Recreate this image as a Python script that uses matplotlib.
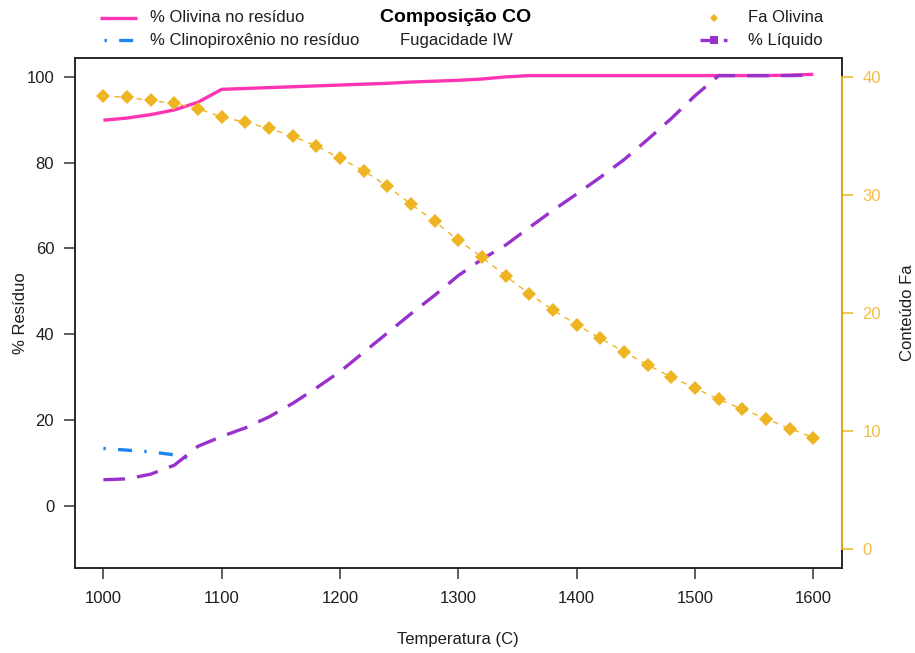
import matplotlib
matplotlib.use("Agg")
import matplotlib.pyplot as plt
from matplotlib.lines import Line2D
from matplotlib.transforms import blended_transform_factory

plt.rcParams['font.family'] = ['Liberation Sans', 'DejaVu Sans']

# ---------------- data ----------------
temps = [1000, 1020, 1040, 1060, 1080, 1100, 1120, 1140, 1160, 1180, 1200,
         1220, 1240, 1260, 1280, 1300, 1320, 1340, 1360, 1380, 1400,
         1420, 1440, 1460, 1480, 1500, 1520, 1540, 1560, 1580, 1600]

olivina = [89.9, 90.4, 91.2, 92.3, 94.1, 97.1, 97.3, 97.5, 97.7, 97.9, 98.1,
           98.3, 98.5, 98.8, 99.0, 99.2, 99.5, 100.0, 100.3, 100.3, 100.3,
           100.3, 100.3, 100.3, 100.3, 100.3, 100.3, 100.3, 100.3, 100.4, 100.6]

cpx_temps = [1000, 1020, 1040, 1060, 1080]
cpx = [13.4, 13.0, 12.6, 11.9, 10.6]

liquido = [6.1, 6.3, 7.4, 9.5, 13.9, 16.2, 18.2, 20.75, 23.9, 27.5, 31.3,
           35.8, 40.3, 44.8, 49.1, 53.7, 57.5, 60.8, 64.9, 68.9, 72.7,
           76.6, 80.7, 85.4, 90.3, 95.6, 100.3, 100.3, 100.3, 100.3, 100.4]

fa_olivina = [38.38, 38.26, 38.0, 37.75, 37.3, 36.6, 36.15, 35.64, 34.96, 34.15, 33.1,
              32.04, 30.74, 29.21, 27.75, 26.15, 24.71, 23.13, 21.6, 20.25, 18.99,
              17.84, 16.7, 15.58, 14.56, 13.61, 12.68, 11.83, 11.04, 10.19, 9.43]

x_ticks = [1000, 1100, 1200, 1300, 1400, 1500, 1600]
left_ticks = [0, 20, 40, 60, 80, 100]
right_ticks = [0, 10, 20, 30, 40]

title = "Composição CO"
subtitle = "Fugacidade IW"
labels = ["% Olivina no resíduo", "% Clinopiroxênio no resíduo", "Fa Olivina", "% Líquido"]

# ---------------- style ----------------
PINK = "#FF34B3"
BLUE = "#1C86EE"
PURPLE = "#9932CC"
GOLD = "#EEB422"
GOLD_TXT = "#F0BE45"
TXT = "#1E1E1E"
FS = 12

W, H = 915, 653
fig = plt.figure(figsize=(W / 100, H / 100), dpi=100)
L, R, B, T = 75, 841.7, 567.7, 58
ax = fig.add_axes([L / W, 1 - B / H, (R - L) / W, (B - T) / H])
ax2 = ax.twinx()

ax.set_xlim(976, 1624)
ax.set_ylim(-14.4, 104.4)
ax2.set_ylim(-1.6, 41.6)

ax.plot(temps, olivina, color=PINK, lw=2.4, solid_capstyle='butt', zorder=3)
ax.plot(cpx_temps, cpx, color=BLUE, lw=2.4, dashes=(0.7, 3.7, 4.2, 3.7),
        dash_capstyle='butt', zorder=3)
ax.plot(temps, liquido, color=PURPLE, lw=2.4, dashes=(6.5, 3.6),
        dash_capstyle='butt', zorder=3)
ax2.plot(temps, fa_olivina, color=GOLD, lw=1.0, dashes=(4, 4), zorder=2)
ax2.plot(temps, fa_olivina, color=GOLD, lw=0, marker='D', markersize=7,
         markeredgewidth=0, zorder=3)

for a in (ax, ax2):
    for s in a.spines.values():
        s.set_color("#222222")
        s.set_linewidth(1.1)

ax.set_xticks(x_ticks)
ax.set_yticks(left_ticks)
ax.tick_params(axis='both', direction='out', length=8, width=1.1, color="#333333",
               labelsize=FS, labelcolor=TXT)
ax.tick_params(axis='x', pad=9)
ax.tick_params(axis='y', pad=7)

ax2.set_yticks(right_ticks)
ax2.tick_params(axis='y', direction='out', length=8, width=1.1, color=GOLD,
                labelsize=FS, labelcolor=GOLD_TXT, pad=7)
# gold axis line on the right from 0 to 40
tr = blended_transform_factory(ax2.transAxes, ax2.transData)
ax2.plot([1, 1], [0, 40], transform=tr, color=GOLD, lw=1.3, clip_on=False, zorder=5)

ax.set_xlabel("Temperatura (C)", fontsize=FS, color=TXT, labelpad=18.5)
ax.set_ylabel("% Resíduo", fontsize=FS, color=TXT, labelpad=-1)
ax2.set_ylabel("Conteúdo Fa", fontsize=FS, color=TXT, labelpad=13.5, rotation=90)

# ---------------- legends / titles (figure pixel coords) ----------------
def fx(px):
    return px / W

def fy(py):
    return 1 - py / H

fig.text(fx(456), fy(18), title, ha='center', va='center', fontsize=14,
         fontweight='bold', color='black')
fig.text(fx(456), fy(41), subtitle, ha='center', va='center', fontsize=FS, color=TXT)

fig.add_artist(Line2D([fx(100), fx(137)], [fy(18), fy(18)], color=PINK, lw=2.4,
                      solid_capstyle='butt'))
fig.add_artist(Line2D([fx(104), fx(137)], [fy(40), fy(40)], color=BLUE, lw=2.4,
                      dashes=(0.7, 3.7, 4.2, 3.7), dash_capstyle='butt'))
fig.text(fx(150), fy(18), labels[0], ha='left', va='center', fontsize=FS, color=TXT)
fig.text(fx(150), fy(40), labels[1], ha='left', va='center', fontsize=FS, color=TXT)

fig.add_artist(Line2D([fx(714)], [fy(18)], color=GOLD, lw=0, marker='D',
                      markersize=4.5, markeredgewidth=0))
fig.add_artist(Line2D([fx(700), fx(727)], [fy(40), fy(40)], color=PURPLE, lw=2.4,
                      dashes=(4.5, 2.5), dash_capstyle='butt'))
fig.add_artist(Line2D([fx(714)], [fy(40)], color=PURPLE, lw=0, marker='s',
                      markersize=5.5, markeredgewidth=0))
fig.text(fx(748), fy(18), labels[2], ha='left', va='center', fontsize=FS, color=TXT)
fig.text(fx(748), fy(40), labels[3], ha='left', va='center', fontsize=FS, color=TXT)

fig.savefig("out.png", dpi=100)
